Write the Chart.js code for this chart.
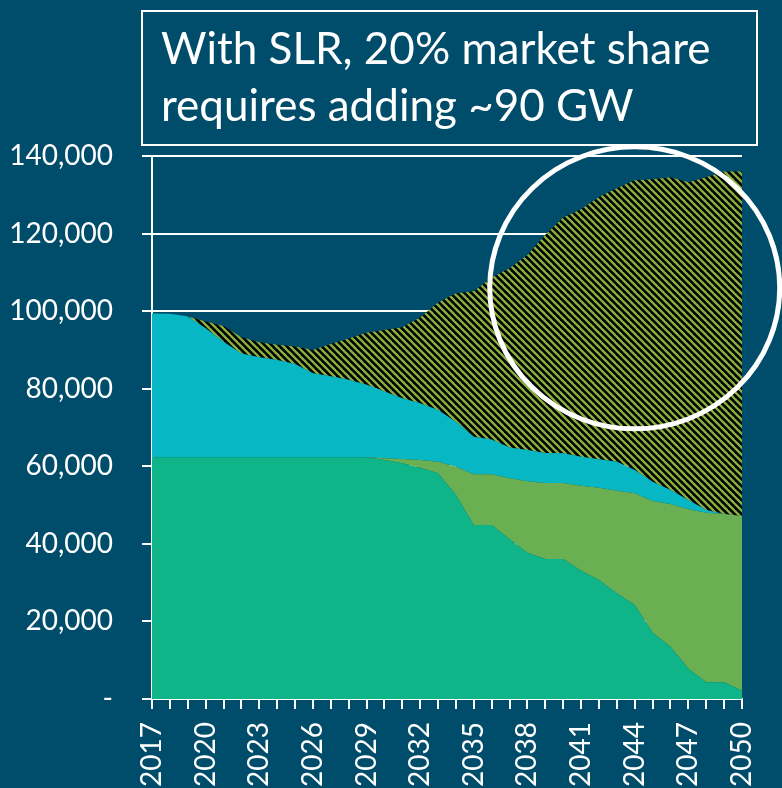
<!DOCTYPE html>
<html>
<head>
<meta charset="utf-8">
<script src="https://cdn.jsdelivr.net/npm/chart.js@4.4.1/dist/chart.umd.min.js"></script>
<style>
  html, body { margin: 0; padding: 0; background: #004D6B; }
  #wrap { position: relative; width: 782px; height: 788px; }
  #titulo {
    position: absolute; left: 141px; top: 10px; width: 617px; height: 136px;
    box-sizing: border-box; border: 2px solid #ffffff;
    padding: 7px 0 0 18px;
    font-family: Lato, "Open Sans", sans-serif; font-size: 44px; line-height: 57px;
    color: #ffffff; z-index: 2;
  }
</style>
</head>
<body>
<div id="wrap">
  <div id="titulo">With SLR, 20% market share<br>requires adding ~90 GW</div>
  <canvas id="grafica" width="782" height="788"></canvas>
</div>
<script>
// años
const anios = [];
for (let a = 2017; a <= 2050; a++) anios.push(String(a));

// capas apiladas (MW)
const capaVerde = [62300, 62300, 62300, 62300, 62300, 62300, 62300, 62300, 62300, 62300, 62300, 62300,
  62300, 61630, 60770, 59650, 58200, 52600, 44870, 44870, 41170, 37730, 36100, 36100,
  33090, 30690, 27250, 24240, 17100, 13490, 7820, 4300, 4300, 2150];
const capaOliva = [0, 0, 0, 0, 0, 0, 0, 0, 0, 0, 0, 0,
  0, 430, 1120, 1980, 3000, 7310, 13070, 13070, 15740, 18410, 19600, 19600,
  21920, 23800, 26470, 28800, 33960, 36790, 41100, 43750, 43400, 45040];
const capaCian = [37100, 37000, 36300, 33300, 29800, 26800, 25800, 25100, 24100, 21700, 20900, 20000,
  18700, 17200, 15650, 14600, 13300, 11600, 9700, 8960, 7940, 8060, 7700, 7640,
  7470, 7310, 7480, 6010, 4970, 3610, 2390, 690, 0, 0];
const capaNueva = [0, 0, 0, 1700, 4060, 4160, 3890, 3950, 4460, 6010, 8300, 10640,
  13410, 15910, 18310, 22120, 27720, 33090, 37520, 41750, 46210, 50290, 56300, 60820,
  63820, 67640, 70470, 74690, 77970, 80630, 81890, 85780, 88280, 88810];

const ticksY = [0, 20000, 40000, 60000, 80000, 100000, 120000, 140000];

const $Lienzo = document.getElementById('grafica');

// patron rayado
const rayado = (function () {
  const p = 7;
  const c = document.createElement('canvas');
  c.width = p; c.height = p;
  const g = c.getContext('2d');
  g.fillStyle = '#000000';
  g.fillRect(0, 0, p, p);
  g.strokeStyle = '#8AB13E';
  g.lineWidth = 2.3;
  for (let k = -1; k <= 1; k++) {
    g.beginPath();
    g.moveTo(k * p - 1, -1);
    g.lineTo(k * p + p + 1, p + 1);
    g.stroke();
  }
  return $Lienzo.getContext('2d').createPattern(c, 'repeat');
})();

// circulo resaltado
const circulo = {
  id: 'circulo',
  afterDraw(chart) {
    const ctx = chart.ctx;
    const cx = chart.scales.x.getPixelForValue(anios.indexOf('2044'));
    const cy = chart.scales.y.getPixelForValue(106000);
    ctx.save();
    ctx.strokeStyle = '#ffffff';
    ctx.lineWidth = 5;
    ctx.beginPath();
    ctx.ellipse(cx, cy, 145, 141, 0, 0, Math.PI * 2);
    ctx.stroke();
    ctx.restore();
  }
};

function capa(data, color, fill) {
  return {
    data: data,
    backgroundColor: color,
    borderWidth: 0,
    pointRadius: 0,
    tension: 0,
    fill: fill
  };
}

new Chart($Lienzo, {
  type: 'line',
  data: {
    labels: anios,
    datasets: [
      capa(capaVerde, '#0FB588', 'origin'),
      capa(capaOliva, '#6AB052', '-1'),
      capa(capaCian, '#07B7C3', '-1'),
      capa(capaNueva, rayado, '-1')
    ]
  },
  options: {
    responsive: false,
    animation: false,
    layout: { padding: { left: 0, right: 40, top: 156, bottom: 0 } },
    plugins: { legend: { display: false }, tooltip: { enabled: false } },
    scales: {
      x: {
        ticks: {
          autoSkip: false,
          minRotation: 90,
          maxRotation: 90,
          padding: 13,
          color: '#ffffff',
          font: { family: 'Lato', size: 28 },
          callback: function (v, i) { return i % 3 === 0 ? anios[i] : ''; }
        },
        grid: { display: true, drawOnChartArea: false, drawTicks: true, tickLength: 10, color: '#ffffff', lineWidth: 2 },
        border: { display: true, color: '#ffffff', width: 2 },
        afterFit: function (s) { s.height = 89; s.paddingLeft = 0; s.paddingRight = 0; }
      },
      y: {
        stacked: true,
        min: 0,
        max: 140000,
        afterBuildTicks: function (s) { s.ticks = ticksY.map(v => ({ value: v })); },
        ticks: {
          padding: 29,
          color: '#ffffff',
          font: { family: 'Lato', size: 28 },
          callback: function (v) { return v === 0 ? '-' : v.toLocaleString('en-US'); }
        },
        grid: { color: '#ffffff', lineWidth: 2, tickLength: 10 },
        border: { display: true, color: '#ffffff', width: 2 },
        afterFit: function (s) { s.width = 152; }
      }
    }
  },
  plugins: [circulo]
});
</script>
</body>
</html>
